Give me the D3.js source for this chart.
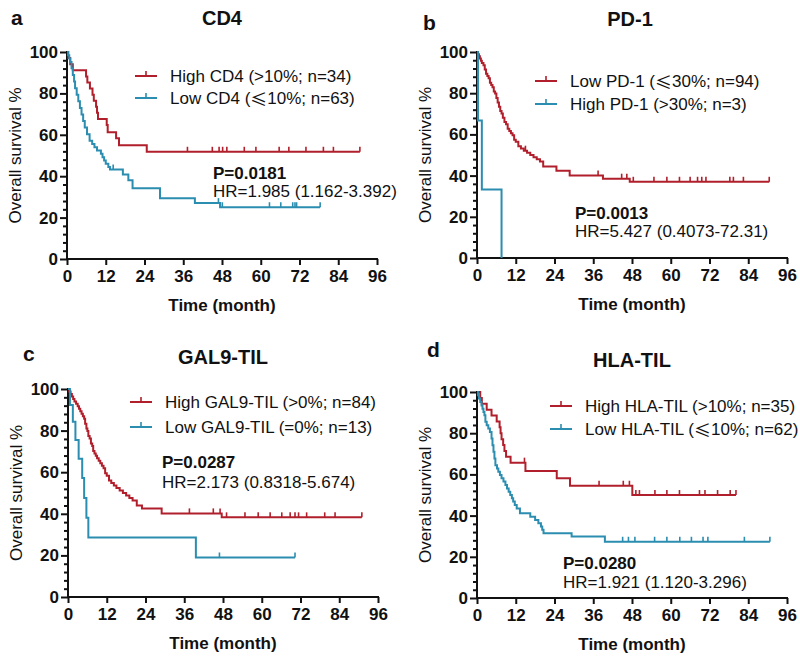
<!DOCTYPE html>
<html><head><meta charset="utf-8">
<script src="https://cdn.jsdelivr.net/npm/d3@7"></script>
<style>
body{margin:0;background:#fff;}
text{font-family:"Liberation Sans",Arial,sans-serif;fill:#111;}
</style></head><body>
<svg id="c" width="800" height="657"></svg>
<script>
// ---------- data ----------
const xTicks = [0,12,24,36,48,60,72,84,96];
const yTicks = [0,20,40,60,80,100];

// Panel a: CD4
const aHighT = [0.4,1.0,1.8,5.9,6.3,7.1,7.9,8.3,9.0,9.3,9.6,12.3,12.6,15.2,16.1,24.7];
const aHighS = [97.1,94.1,91.2,88.2,85.3,82.4,79.4,76.5,73.5,70.6,67.6,64.7,61.2,58.3,55.0,51.8];
const aHighEnd = 90.7;
const aHighCens = [37.3,45.0,47.1,48.2,49.5,54.9,58.5,65.7,68.7,74.0,79.4,82.5,90.7];
const aLowT = [0.3,0.7,1.0,1.4,1.8,2.2,2.5,3.0,3.5,4.0,4.5,5.0,5.5,6.2,7.0,7.8,8.5,9.3,10.5,11.0,11.5,12.0,12.8,13.3,17.3,19.0,20.3,28.8,39.6,47.4];
const aLowS = [98.4,96.8,95.2,92.1,88.9,85.7,82.5,79.4,76.2,73.0,69.8,66.7,63.5,60.3,57.1,55.6,54.0,52.4,50.8,49.2,47.6,46.0,44.4,43.2,40.8,38.0,34.2,29.3,27.0,25.0];
const aLowEnd = 78.4;
const aLowCens = [14.3,46.9,48.1,62.7,66.2,69.9,70.6,71.1,78.4];

// Panel b: PD-1
const bLowT = [0.3,0.6,0.9,1.2,1.5,2.0,2.4,2.8,3.2,3.6,4.0,4.4,4.8,5.2,5.6,6.0,6.4,6.8,7.2,7.6,8.0,8.5,9.0,9.5,10.0,10.5,11.0,11.5,12.0,12.8,13.6,14.5,15.5,16.5,17.5,18.5,19.5,20.5,24.6,28.7,39.0,47.3];
const bLowS = [98.9,97.9,96.8,95.7,94.7,93.6,91.5,89.4,88.3,87.2,85.1,84.0,82.9,80.8,79.8,77.7,75.5,73.4,71.3,70.2,68.1,66.0,64.9,62.8,61.7,60.6,59.6,57.4,56.4,54.3,53.2,52.1,51.1,50.0,48.9,47.9,46.8,44.4,42.4,40.0,38.5,37.0];
const bLowEnd = 90.5;
const bLowCens = [15.0,37.5,44.8,46.4,48.4,54.8,58.8,62.7,66.0,68.3,69.6,70.9,78.3,79.4,82.5,90.5];
const bHighT = [0.3,1.5,7.6];
const bHighS = [66.7,33.3,0];
const bHighEnd = 7.6;
const bHighCens = [];

// Panel c: GAL9-TIL
const cHighT = [0.4,0.8,1.2,1.6,2.0,2.5,3.0,3.4,3.8,4.2,4.6,5.0,5.3,5.7,6.0,6.3,6.7,7.1,7.5,7.8,8.2,8.6,9.0,9.5,10.0,10.5,11.0,11.5,12.0,12.7,13.4,14.2,15.0,16.0,17.0,18.0,19.0,20.0,21.3,22.9,29.0,47.6];
const cHighS = [98.8,97.6,96.4,95.2,94.0,92.9,91.7,90.5,89.3,88.1,86.9,85.7,83.3,81.0,79.8,77.4,76.2,73.8,72.6,70.2,69.0,67.9,66.7,65.5,64.3,63.1,61.9,59.5,58.3,56.0,54.8,53.6,52.4,51.2,50.0,48.8,47.6,46.4,44.0,42.6,40.2,38.3];
const cHighEnd = 91.0;
const cHighCens = [37.6,45.0,47.1,49.1,54.8,58.9,62.6,66.2,68.8,70.3,71.4,73.9,79.5,82.7,91.0];
const cLowT = [0.6,1.5,2.3,3.3,4.4,5.0,5.7,6.3,39.6];
const cLowS = [92.3,84.2,75.5,66.5,57.2,47.6,38.1,28.6,19.0];
const cLowEnd = 70.3;
const cLowCens = [46.9,70.3];

// Panel d: HLA-TIL
const dHighT = [1.0,1.5,3.0,4.5,6.1,7.0,7.3,7.6,8.1,8.5,9.0,10.4,15.0,24.7,28.8,48.1];
const dHighS = [97.1,94.3,91.4,88.6,85.7,82.9,80.0,77.1,74.3,71.4,68.6,65.7,61.6,58.1,54.5,50.0];
const dHighEnd = 80.2;
const dHighCens = [14.7,37.8,45.3,47.2,49.2,50.3,55.1,58.8,62.7,68.9,70.6,74.5,78.4,80.2];
const dLowT = [0.3,0.6,1.0,1.4,1.7,2.0,2.3,2.6,3.0,3.5,4.0,4.5,4.8,5.1,5.4,5.7,6.2,6.6,7.1,7.6,8.2,8.8,9.3,9.8,10.3,10.8,11.2,11.7,12.3,13.3,16.5,18.0,19.0,19.8,20.2,20.6,29.3,39.6];
const dLowS = [98.4,96.8,95.2,93.5,91.9,90.3,88.7,85.5,83.9,82.3,80.6,77.4,74.2,71.0,67.7,64.5,62.9,61.3,59.7,58.1,56.5,54.8,53.2,51.6,50.0,48.4,46.8,45.2,43.5,41.1,39.5,37.9,36.3,34.7,33.1,31.4,29.8,27.3];
const dLowEnd = 90.7;
const dLowCens = [45.1,46.9,48.9,55.0,58.8,62.8,66.4,70.0,71.5,82.8,90.7];

// ---------- drawing ----------
const RED = "#b01f2b", BLUE = "#2b8db0";
const panels = [
  {letter:"a", title:"CD4", x0:67, yTop:52, yBot:259, lx:[11,17], tx:[222,18],
   legend:{x:135, ys:[76,98]}, stats:{x:213, ys:[173,191]}, p:"P=0.0181", hr:"HR=1.985 (1.162-3.392)",
   series:[
    {label:"High CD4 (>10%; n=34)", pre:"High CD4 (>10%; n=34)", color:RED, T:aHighT, S:aHighS, end:aHighEnd, cens:aHighCens},
    {label:["Low CD4 (","≤","10%; n=63)"], color:BLUE, T:aLowT, S:aLowS, end:aLowEnd, cens:aLowCens}]},
  {letter:"b", title:"PD-1", x0:477, yTop:52, yBot:258, lx:[423,22], tx:[630,19],
   legend:{x:535, ys:[81,104]}, stats:{x:575, ys:[213,231]}, p:"P=0.0013", hr:"HR=5.427 (0.4073-72.31)",
   series:[
    {label:["Low PD-1 (","≤","30%; n=94)"], color:RED, T:bLowT, S:bLowS, end:bLowEnd, cens:bLowCens},
    {label:"High PD-1 (>30%; n=3)", color:BLUE, T:bHighT, S:bHighS, end:bHighEnd, cens:bHighCens}]},
  {letter:"c", title:"GAL9-TIL", x0:68, yTop:389, yBot:597, lx:[23,353], tx:[223,357],
   legend:{x:130, ys:[402,427]}, stats:{x:162, ys:[462,482]}, p:"P=0.0287", hr:"HR=2.173 (0.8318-5.674)",
   series:[
    {label:"High GAL9-TIL (>0%; n=84)", color:RED, T:cHighT, S:cHighS, end:cHighEnd, cens:cHighCens},
    {label:"Low GAL9-TIL (=0%; n=13)", color:BLUE, T:cLowT, S:cLowS, end:cLowEnd, cens:cLowCens}]},
  {letter:"d", title:"HLA-TIL", x0:477, yTop:392, yBot:598, lx:[427,349], tx:[632,360],
   legend:{x:550, ys:[406,429]}, stats:{x:563, ys:[563,582]}, p:"P=0.0280", hr:"HR=1.921 (1.120-3.296)",
   series:[
    {label:"High HLA-TIL (>10%; n=35)", color:RED, T:dHighT, S:dHighS, end:dHighEnd, cens:dHighCens},
    {label:["Low HLA-TIL (","≤","10%; n=62)"], color:BLUE, T:dLowT, S:dLowS, end:dLowEnd, cens:dLowCens}]}
];

const svg = d3.select("#c");

function survAt(T,S,t){ let v=100; for(let i=0;i<T.length;i++){ if(T[i]<=t) v=S[i]; } return v; }

panels.forEach(p=>{
  const g = svg.append("g");
  const x = d3.scaleLinear().domain([0,96]).range([p.x0, p.x0+310]);
  const y = d3.scaleLinear().domain([0,100]).range([p.yBot, p.yTop]);

  // letter & title
  g.append("text").attr("x",p.lx[0]).attr("y",p.lx[1]).attr("dominant-baseline","central")
    .attr("font-size",21).attr("font-weight","bold").text(p.letter);
  g.append("text").attr("x",p.tx[0]).attr("y",p.tx[1]).attr("dominant-baseline","central")
    .attr("text-anchor","middle").attr("font-size",20).attr("font-weight","bold").text(p.title);

  // axes
  const xa = g.append("g").attr("transform",`translate(0,${p.yBot})`)
    .call(d3.axisBottom(x).tickValues(xTicks).tickSize(6).tickPadding(4).tickFormat(d3.format("d")));
  const yminor = g.append("g").attr("transform",`translate(${p.x0},0)`)
    .call(d3.axisLeft(y).tickValues(d3.range(0,101,4).filter(v=>v%20!==0)).tickSize(4).tickFormat(""));
  yminor.select(".domain").remove();
  const ya = g.append("g").attr("transform",`translate(${p.x0},0)`)
    .call(d3.axisLeft(y).tickValues(yTicks).tickSize(7).tickPadding(2).tickFormat(d3.format("d")));
  [xa,ya,yminor].forEach(a=>{
    a.selectAll("path,line").attr("stroke","#111").attr("stroke-width",2);
    a.select(".domain").attr("d", null);
  });
  xa.select(".domain").attr("d",`M${p.x0-1},0H${p.x0+311}`);
  ya.select(".domain").attr("d",`M0,${p.yBot+1}V${p.yTop-1}`);
  [xa,ya].forEach(a=>a.selectAll("text").attr("font-size",17).attr("font-weight","bold")
     .attr("fill","#111").style("font-family","'Liberation Sans',Arial,sans-serif"));
  xa.selectAll("text").attr("dy","0.75em");

  // axis titles
  g.append("text").attr("x",p.x0+155).attr("y",p.yBot+46).attr("dominant-baseline","central")
    .attr("text-anchor","middle").attr("font-size",17).attr("font-weight","bold").text("Time (month)");
  g.append("text").attr("transform",`translate(${p.x0-52},${(p.yTop+p.yBot)/2}) rotate(-90)`)
    .attr("dominant-baseline","central").attr("text-anchor","middle").attr("font-size",17)
    .text("Overall survival %");

  // curves
  const line = d3.line().x(d=>x(d[0])).y(d=>y(d[1])).curve(d3.curveStepAfter);
  p.series.forEach(s=>{
    const pts = [[0,100]].concat(s.T.map((t,i)=>[t,s.S[i]]));
    pts.push([s.end, s.S[s.S.length-1]]);
    g.append("path").attr("d",line(pts)).attr("fill","none").attr("stroke",s.color).attr("stroke-width",2);
    g.selectAll(null).data(s.cens).enter().append("line")
      .attr("x1",d=>x(d)).attr("x2",d=>x(d))
      .attr("y1",d=>y(survAt(s.T,s.S,d))).attr("y2",d=>y(survAt(s.T,s.S,d))-5)
      .attr("stroke",s.color).attr("stroke-width",1.6);
  });

  // legend
  p.series.forEach((s,i)=>{
    const ly = p.legend.ys[i];
    g.append("line").attr("x1",p.legend.x).attr("x2",p.legend.x+22).attr("y1",ly).attr("y2",ly)
      .attr("stroke",s.color).attr("stroke-width",2);
    g.append("line").attr("x1",p.legend.x+11).attr("x2",p.legend.x+11).attr("y1",ly).attr("y2",ly-5)
      .attr("stroke",s.color).attr("stroke-width",1.6);
    const t = g.append("text").attr("x",p.legend.x+35).attr("y",ly).attr("dominant-baseline","central")
      .attr("font-size",17);
    if(Array.isArray(s.label)){
      t.append("tspan").text(s.label[0]);
      t.append("tspan").style("font-family","'Noto Sans CJK SC',sans-serif").text(s.label[1]);
      t.append("tspan").text(s.label[2]);
    } else t.text(s.label);
  });

  // stats
  g.append("text").attr("x",p.stats.x).attr("y",p.stats.ys[0]).attr("dominant-baseline","central")
    .attr("font-size",17).attr("font-weight","bold").text(p.p);
  g.append("text").attr("x",p.stats.x).attr("y",p.stats.ys[1]).attr("dominant-baseline","central")
    .attr("font-size",17).text(p.hr);
});
</script>
</body></html>
